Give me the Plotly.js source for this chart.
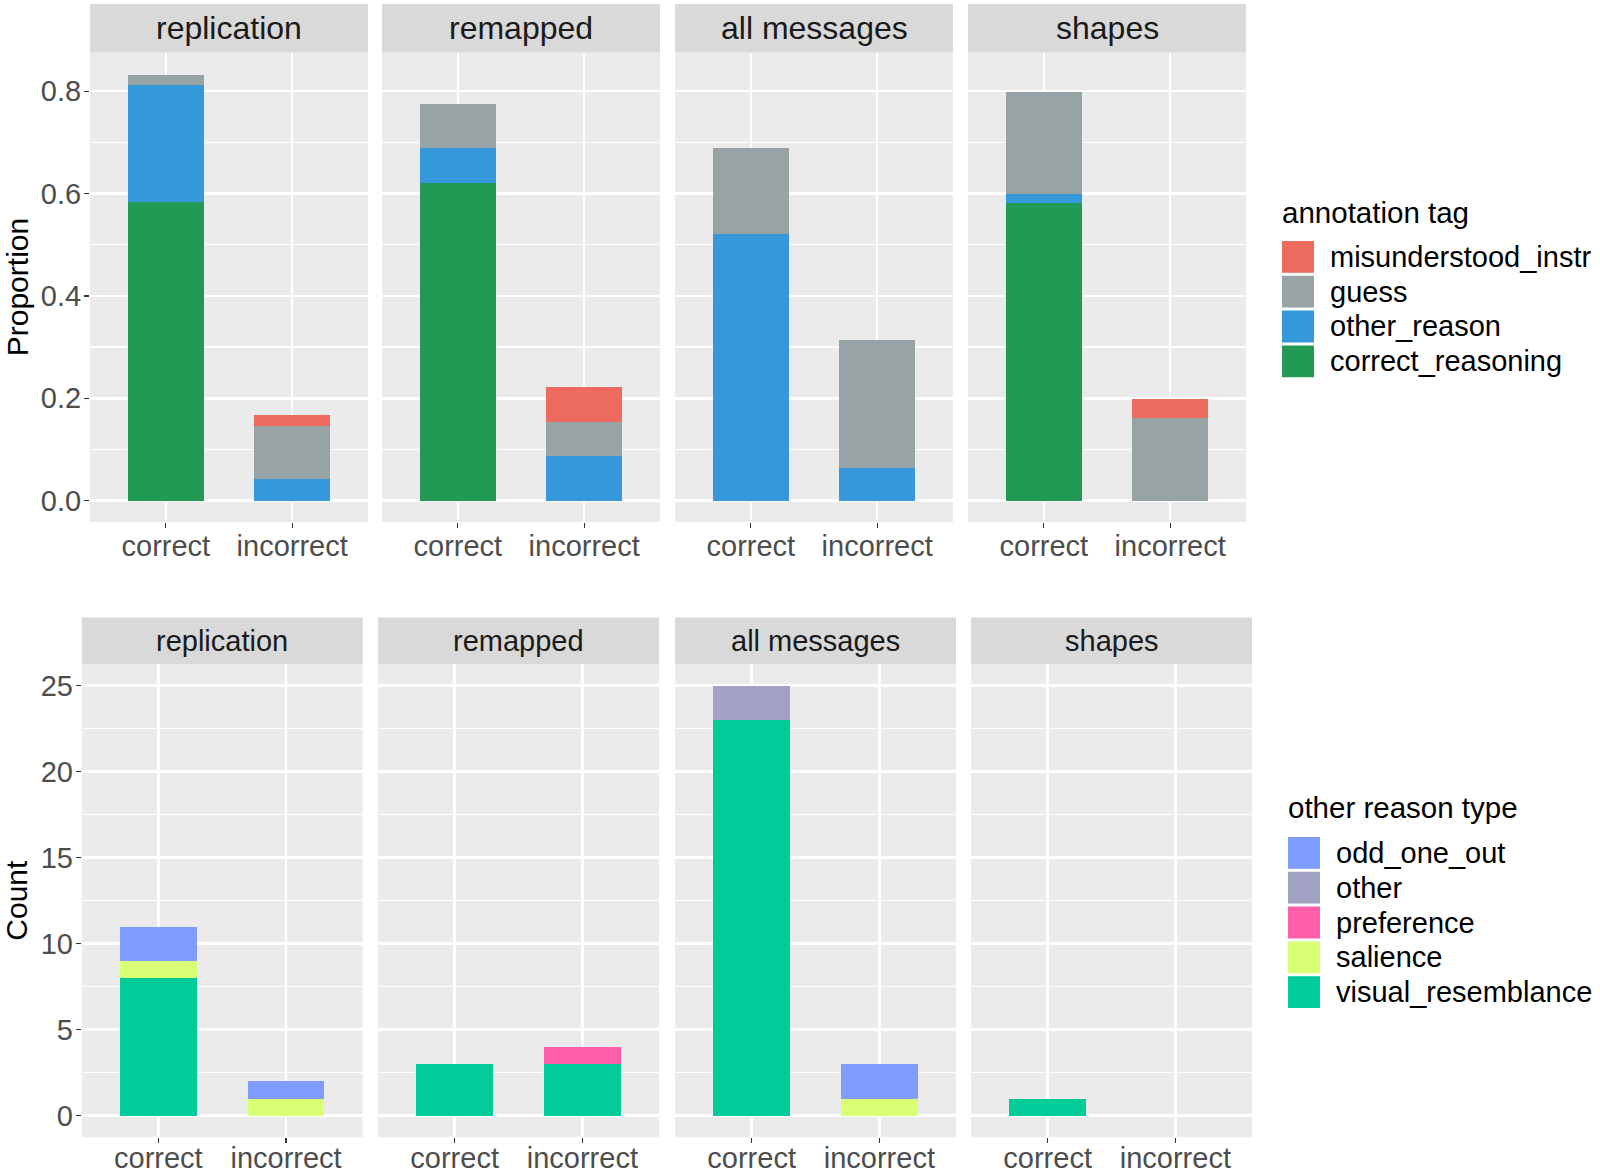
<!DOCTYPE html>
<html>
<head>
<meta charset="utf-8">
<script src="https://cdn.plot.ly/plotly-3.0.1.min.js"></script>
<style>html,body{margin:0;padding:0;background:#fff;}#chart{width:1600px;height:1175px;}</style>
</head>
<body>
<div id="chart"></div>
<script>
// ---------- DATA ----------
const panels = ['replication', 'remapped', 'all messages', 'shapes'];
const outcomes = ['correct', 'incorrect'];

// Top row: proportion by annotation tag, per panel [correct, incorrect]
const tagNames = ['misunderstood_instr', 'guess', 'other_reason', 'correct_reasoning'];
const tagColors = ['#EC6B5E', '#97A3A4', '#3498DB', '#229954'];
const correctReasoning   = [[0.584, 0.000], [0.621, 0.000], [0.000, 0.000], [0.581, 0.000]];
const otherReason        = [[0.228, 0.043], [0.068, 0.087], [0.522, 0.063], [0.019, 0.000]];
const guess              = [[0.019, 0.103], [0.087, 0.067], [0.167, 0.250], [0.198, 0.162]];
const misunderstoodInstr = [[0.000, 0.021], [0.000, 0.069], [0.000, 0.000], [0.000, 0.036]];

// Bottom row: counts by other reason type, per panel [correct, incorrect]
const reasonNames = ['odd_one_out', 'other', 'preference', 'salience', 'visual_resemblance'];
const reasonColors = ['#7F9CFF', '#A2A3C4', '#FF5FA8', '#D9FF74', '#00CC99'];
const visualResemblance = [[8, 0], [3, 3], [23, 0], [1, 0]];
const salience          = [[1, 1], [0, 0], [0, 1], [0, 0]];
const preference        = [[0, 0], [0, 1], [0, 0], [0, 0]];
const otherType         = [[0, 0], [0, 0], [2, 0], [0, 0]];
const oddOneOut         = [[2, 1], [0, 0], [0, 2], [0, 0]];

// ---------- LAYOUT GEOMETRY (pixels) ----------
const W = 1600, H = 1175;
const topX = [90, 382, 675, 968], topW = 278;
const topPlot = [52.5, 522], topStrip = [4, 52.5];
const botX = [81.7, 378, 675, 971], botW = 281;
const botPlot = [664.2, 1137.2], botStrip = [617.6, 664.2];

const FONT = 'Liberation Sans, Arial, sans-serif';
const px = x => x / W;
const py = y => 1 - y / H;

// stacking order: first trace = bottom of the stack
const topSeries = [
  {name: 'correct_reasoning', vals: correctReasoning, color: tagColors[3]},
  {name: 'other_reason', vals: otherReason, color: tagColors[2]},
  {name: 'guess', vals: guess, color: tagColors[1]},
  {name: 'misunderstood_instr', vals: misunderstoodInstr, color: tagColors[0]}
];
const botSeries = [
  {name: 'visual_resemblance', vals: visualResemblance, color: reasonColors[4]},
  {name: 'salience', vals: salience, color: reasonColors[3]},
  {name: 'preference', vals: preference, color: reasonColors[2]},
  {name: 'other', vals: otherType, color: reasonColors[1]},
  {name: 'odd_one_out', vals: oddOneOut, color: reasonColors[0]}
];

const traces = [];
const layout = {
  width: W, height: H,
  margin: {l: 0, r: 0, t: 0, b: 0},
  paper_bgcolor: '#FFFFFF',
  plot_bgcolor: '#EBEBEB',
  barmode: 'stack',
  showlegend: false,
  font: {family: FONT},
  shapes: [],
  annotations: []
};

function axName(i) { return i === 1 ? '' : String(i); }

function addRow(series, rowIdx) {
  const xs = rowIdx === 0 ? topX : botX;
  const wdt = rowIdx === 0 ? topW : botW;
  const plot = rowIdx === 0 ? topPlot : botPlot;
  const strip = rowIdx === 0 ? topStrip : botStrip;
  const yRange = rowIdx === 0 ? [-0.0417, 0.8757] : [-1.25, 26.25];
  const dtick = rowIdx === 0 ? 0.2 : 5;
  const minorD = rowIdx === 0 ? 0.1 : 2.5;
  panels.forEach((p, k) => {
    const i = rowIdx * 4 + k + 1;
    const xa = 'x' + axName(i), ya = 'y' + axName(i);
    series.forEach(s => {
      traces.push({
        type: 'bar', x: outcomes, y: s.vals[k], name: s.name,
        xaxis: xa, yaxis: ya, width: 0.6,
        marker: {color: s.color, line: {width: 0}},
        hoverinfo: 'name+y'
      });
    });
    layout['xaxis' + axName(i)] = {
      domain: [px(xs[k]), px(xs[k] + wdt)],
      anchor: ya,
      type: 'category',
      range: [-0.6, 1.6],
      showgrid: true, gridcolor: '#FFFFFF', gridwidth: 2.5,
      zeroline: false, showline: false,
      ticks: 'outside', ticklen: 5, tickwidth: 1.3, tickcolor: '#333333',
      ticklabelstandoff: rowIdx === 0 ? -7 : -10,
      tickfont: {family: FONT, size: 29, color: '#4D4D4D'},
      fixedrange: true
    };
    layout['yaxis' + axName(i)] = {
      domain: [py(plot[1]), py(plot[0])],
      anchor: xa,
      range: yRange,
      dtick: dtick, tick0: 0,
      tickformat: rowIdx === 0 ? '.1f' : 'd',
      showgrid: true, gridcolor: '#FFFFFF', gridwidth: 2.5,
      minor: {dtick: minorD, tick0: 0, showgrid: true, gridcolor: '#FFFFFF', gridwidth: 1.3, ticks: ''},
      zeroline: false, showline: false,
      ticks: k === 0 ? 'outside' : '', ticklen: 5, tickwidth: 1.3, tickcolor: '#333333',
      ticklabelstandoff: -3,
      showticklabels: k === 0,
      tickfont: {family: FONT, size: 29, color: '#4D4D4D'},
      fixedrange: true
    };
    // facet strip
    layout.shapes.push({
      type: 'rect', xref: 'paper', yref: 'paper',
      x0: px(xs[k]), x1: px(xs[k] + wdt), y0: py(strip[1]), y1: py(strip[0]),
      fillcolor: '#D9D9D9', line: {width: 0}, layer: 'below'
    });
    layout.annotations.push({
      xref: 'paper', yref: 'paper',
      x: px(xs[k] + wdt / 2), y: py((strip[0] + strip[1]) / 2),
      xanchor: 'center', yanchor: 'middle', showarrow: false,
      text: p,
      font: {family: FONT, size: rowIdx === 0 ? 32 : 29, color: '#1A1A1A'}
    });
  });
}

addRow(topSeries, 0);
addRow(botSeries, 1);

// axis titles
layout.annotations.push({
  xref: 'paper', yref: 'paper', x: px(17), y: py((topPlot[0] + topPlot[1]) / 2),
  xanchor: 'center', yanchor: 'middle', showarrow: false, textangle: -90,
  text: 'Proportion', font: {family: FONT, size: 30, color: '#000000'}
});
layout.annotations.push({
  xref: 'paper', yref: 'paper', x: px(17), y: py((botPlot[0] + botPlot[1]) / 2),
  xanchor: 'center', yanchor: 'middle', showarrow: false, textangle: -90,
  text: 'Count', font: {family: FONT, size: 30, color: '#000000'}
});

// manual legends (ggplot-style large keys)
function addLegend(title, names, colors, titleX, titleY, keyX, keyTop, labelX) {
  const pitch = 34.8, keyW = 32;
  layout.annotations.push({
    xref: 'paper', yref: 'paper', x: px(titleX), y: py(titleY),
    xanchor: 'left', yanchor: 'middle', showarrow: false,
    text: title, font: {family: FONT, size: 29.5, color: '#000000'}
  });
  names.forEach((n, j) => {
    const y0 = keyTop + j * pitch;
    layout.shapes.push({
      type: 'rect', xref: 'paper', yref: 'paper',
      x0: px(keyX), x1: px(keyX + keyW), y0: py(y0 + pitch - 1.5), y1: py(y0 + 1.5),
      fillcolor: colors[j], line: {width: 0}
    });
    layout.annotations.push({
      xref: 'paper', yref: 'paper', x: px(labelX), y: py(y0 + pitch / 2),
      xanchor: 'left', yanchor: 'middle', showarrow: false,
      text: n, font: {family: FONT, size: 29, color: '#000000'}
    });
  });
}
addLegend('annotation tag', tagNames, tagColors, 1280, 212, 1282, 239.5, 1328);
addLegend('other reason type', reasonNames, reasonColors, 1285.5, 807, 1288, 835.5, 1334);

Plotly.newPlot('chart', traces, layout, {staticPlot: true, displayModeBar: false});
</script>
</body>
</html>
